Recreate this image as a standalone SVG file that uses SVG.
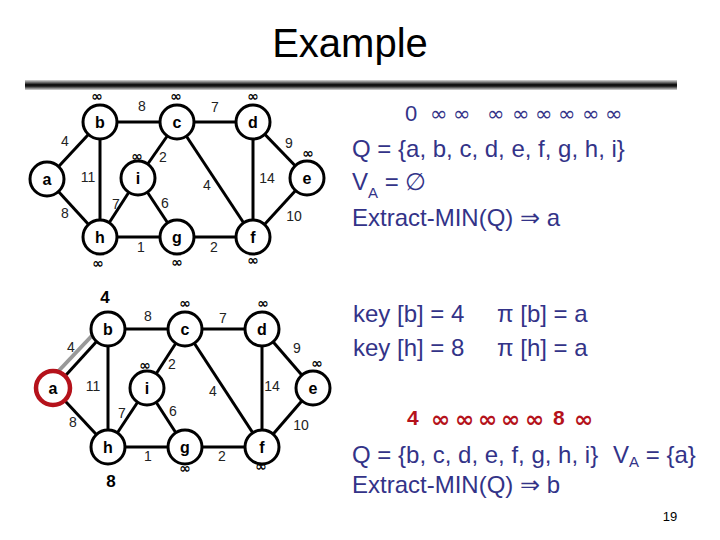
<svg xmlns="http://www.w3.org/2000/svg" width="720" height="540" viewBox="0 0 720 540">
<defs>
<linearGradient id="bar" x1="0" y1="0" x2="0" y2="1">
<stop offset="0" stop-color="#d8d8d8"/>
<stop offset="0.45" stop-color="#111"/>
<stop offset="0.6" stop-color="#111"/>
<stop offset="1" stop-color="#d8d8d8"/>
</linearGradient>
</defs>
<style>
.n{fill:#fff;stroke:#000;stroke-width:3}
.nt{font-family:"Liberation Sans",Arial,sans-serif;font-size:16px;font-weight:bold;text-anchor:middle;fill:#000}
.w{font-family:"Liberation Sans",Arial,sans-serif;font-size:14px;text-anchor:middle;fill:#222}
.inf{font-family:"DejaVu Sans",sans-serif;font-size:14px;font-weight:bold;text-anchor:middle;fill:#000}
.e line{stroke:#000;stroke-width:3}
.t{font-family:"Liberation Sans",Arial,sans-serif;font-size:24px;fill:#333388}
.ti{font-family:"DejaVu Sans",sans-serif;font-size:21px;fill:#333388}
.r{font-family:"Liberation Sans",Arial,sans-serif;font-weight:bold;fill:#b5121b}
.ri{font-family:"DejaVu Sans",sans-serif;font-weight:bold;font-size:23px;fill:#b5121b}
</style>
<rect width="720" height="540" fill="#fff"/>
<text x="350" y="57" font-family="Liberation Sans,Arial,sans-serif" font-size="40" text-anchor="middle" fill="#000">Example</text>
<rect x="25" y="80" width="652" height="10" fill="url(#bar)"/>

<!-- Graph 1 -->
<g id="g1-edges" class="e">
<line x1="47" y1="179" x2="100" y2="122"/>
<line x1="47" y1="179" x2="100" y2="237"/>
<line x1="100" y1="122" x2="177" y2="122"/>
<line x1="100" y1="122" x2="100" y2="237"/>
<line x1="177" y1="122" x2="253" y2="122"/>
<line x1="177" y1="122" x2="138" y2="178"/>
<line x1="177" y1="122" x2="253" y2="237"/>
<line x1="253" y1="122" x2="307" y2="178"/>
<line x1="253" y1="122" x2="253" y2="237"/>
<line x1="138" y1="178" x2="100" y2="237"/>
<line x1="138" y1="178" x2="177" y2="237"/>
<line x1="100" y1="237" x2="177" y2="237"/>
<line x1="177" y1="237" x2="253" y2="237"/>
<line x1="307" y1="178" x2="253" y2="237"/>
</g>
<g id="g1-weights">
<text class="w" x="65" y="146">4</text>
<text class="w" x="142" y="111">8</text>
<text class="w" x="215" y="112">7</text>
<text class="w" x="289" y="148">9</text>
<text class="w" x="163" y="162">2</text>
<text class="w" x="88" y="182">11</text>
<text class="w" x="207" y="190">4</text>
<text class="w" x="267" y="183">14</text>
<text class="w" x="116" y="209">7</text>
<text class="w" x="165" y="208">6</text>
<text class="w" x="65" y="218">8</text>
<text class="w" x="294" y="221">10</text>
<text class="w" x="141" y="252">1</text>
<text class="w" x="214" y="252">2</text>
</g>
<g id="g1-a"><circle class="n" cx="47" cy="179" r="17" stroke-width="5"/><text class="nt" x="47" y="185">a</text></g>
<g id="g1-b"><circle class="n" cx="100" cy="122" r="17"/><text class="nt" x="100" y="128">b</text></g>
<g id="g1-c"><circle class="n" cx="177" cy="122" r="17"/><text class="nt" x="177" y="128">c</text></g>
<g id="g1-d"><circle class="n" cx="253" cy="122" r="17"/><text class="nt" x="253" y="128">d</text></g>
<g id="g1-i"><circle class="n" cx="138" cy="178" r="17"/><text class="nt" x="138" y="184">i</text></g>
<g id="g1-e"><circle class="n" cx="307" cy="178" r="17"/><text class="nt" x="307" y="184">e</text></g>
<g id="g1-h"><circle class="n" cx="100" cy="237" r="17"/><text class="nt" x="100" y="243">h</text></g>
<g id="g1-g"><circle class="n" cx="177" cy="237" r="17"/><text class="nt" x="177" y="243">g</text></g>
<g id="g1-f"><circle class="n" cx="253" cy="237" r="17"/><text class="nt" x="253" y="243">f</text></g>
<g id="g1-inf">
<text class="inf" x="97" y="101">∞</text>
<text class="inf" x="176" y="101">∞</text>
<text class="inf" x="253" y="101">∞</text>
<text class="inf" x="137" y="161">∞</text>
<text class="inf" x="308" y="158">∞</text>
<text class="inf" x="98" y="268">∞</text>
<text class="inf" x="177" y="267">∞</text>
<text class="inf" x="253" y="265">∞</text>
</g>

<!-- Graph 2 -->
<g id="g2-edges" class="e">
<line x1="51" y1="379" x2="103" y2="324" style="stroke:#999;stroke-width:4"/>
<line x1="56" y1="386" x2="108" y2="329"/>
<line x1="53" y1="388" x2="108" y2="447"/>
<line x1="108" y1="329" x2="185" y2="329"/>
<line x1="108" y1="329" x2="108" y2="447"/>
<line x1="185" y1="329" x2="262" y2="329"/>
<line x1="185" y1="329" x2="147" y2="388"/>
<line x1="185" y1="329" x2="262" y2="447"/>
<line x1="262" y1="329" x2="313" y2="388"/>
<line x1="262" y1="329" x2="262" y2="447"/>
<line x1="147" y1="388" x2="108" y2="447"/>
<line x1="147" y1="388" x2="185" y2="447"/>
<line x1="108" y1="447" x2="185" y2="447"/>
<line x1="185" y1="447" x2="262" y2="447"/>
<line x1="313" y1="388" x2="262" y2="447"/>
</g>
<g id="g2-weights">
<text class="w" x="71" y="352">4</text>
<text class="w" x="148" y="321">8</text>
<text class="w" x="223" y="323">7</text>
<text class="w" x="297" y="353">9</text>
<text class="w" x="172" y="369">2</text>
<text class="w" x="93" y="391">11</text>
<text class="w" x="213" y="396">4</text>
<text class="w" x="272" y="391">14</text>
<text class="w" x="122" y="418">7</text>
<text class="w" x="173" y="416">6</text>
<text class="w" x="73" y="427">8</text>
<text class="w" x="301" y="430">10</text>
<text class="w" x="148" y="461">1</text>
<text class="w" x="222" y="461">2</text>
</g>
<g id="g2-a"><circle cx="53" cy="388" r="17" fill="#fff" stroke="#b5121b" stroke-width="4.5"/><text class="nt" x="53" y="394">a</text></g>
<g id="g2-b"><circle class="n" cx="108" cy="329" r="17" stroke-width="5"/><text class="nt" x="108" y="335">b</text></g>
<g id="g2-c"><circle class="n" cx="185" cy="329" r="17"/><text class="nt" x="185" y="335">c</text></g>
<g id="g2-d"><circle class="n" cx="262" cy="329" r="17"/><text class="nt" x="262" y="335">d</text></g>
<g id="g2-i"><circle class="n" cx="147" cy="388" r="17"/><text class="nt" x="147" y="394">i</text></g>
<g id="g2-e"><circle class="n" cx="313" cy="388" r="17"/><text class="nt" x="313" y="394">e</text></g>
<g id="g2-h"><circle class="n" cx="108" cy="447" r="17"/><text class="nt" x="108" y="453">h</text></g>
<g id="g2-g"><circle class="n" cx="185" cy="447" r="17"/><text class="nt" x="185" y="453">g</text></g>
<g id="g2-f"><circle class="n" cx="262" cy="447" r="17"/><text class="nt" x="262" y="453">f</text></g>
<g id="g2-keys">
<text class="nt" x="105" y="303" style="font-size:17px">4</text>
<text class="nt" x="111" y="487" style="font-size:17px">8</text>
<text class="inf" x="185" y="308">∞</text>
<text class="inf" x="263" y="308">∞</text>
<text class="inf" x="145" y="370">∞</text>
<text class="inf" x="317" y="368">∞</text>
<text class="inf" x="185" y="473">∞</text>
<text class="inf" x="261" y="471">∞</text>
</g>

<!-- Right texts -->
<g id="text1">
<text class="t" x="405" y="121" style="font-size:22px">0</text>
<text class="ti" x="430 453 487 512 535 558 582 605" y="121">∞∞∞∞∞∞∞∞</text>
<text class="t" x="352" y="157">Q = {a, b, c, d, e, f, g, h, i}</text>
<text class="t" x="352" y="190">V<tspan font-size="15" dy="8">A</tspan><tspan dy="-8"> = ∅</tspan></text>
<text class="t" x="352" y="226">Extract-MIN(Q) ⇒ a</text>
</g>
<g id="text2">
<text class="t" x="353" y="322">key [b] = 4</text>
<text class="t" x="497" y="322">π [b] = a</text>
<text class="t" x="353" y="356">key [h] = 8</text>
<text class="t" x="497" y="356">π [h] = a</text>
<text class="r" x="407" y="425" font-size="21">4</text>
<text class="ri" x="431 455 478 501 525" y="427">∞∞∞∞∞</text>
<text class="r" x="553" y="425" font-size="21">8</text>
<text class="ri" x="574" y="427">∞</text>
<text class="t" x="352" y="463">Q = {b, c, d, e, f, g, h, i}</text>
<text class="t" x="613" y="463">V<tspan font-size="15" dy="4">A</tspan><tspan dy="-4"> = {a}</tspan></text>
<text class="t" x="352" y="493">Extract-MIN(Q) ⇒ b</text>
</g>
<text x="670" y="521" font-family="Liberation Sans,Arial,sans-serif" font-size="13" text-anchor="middle" fill="#000">19</text>
</svg>
